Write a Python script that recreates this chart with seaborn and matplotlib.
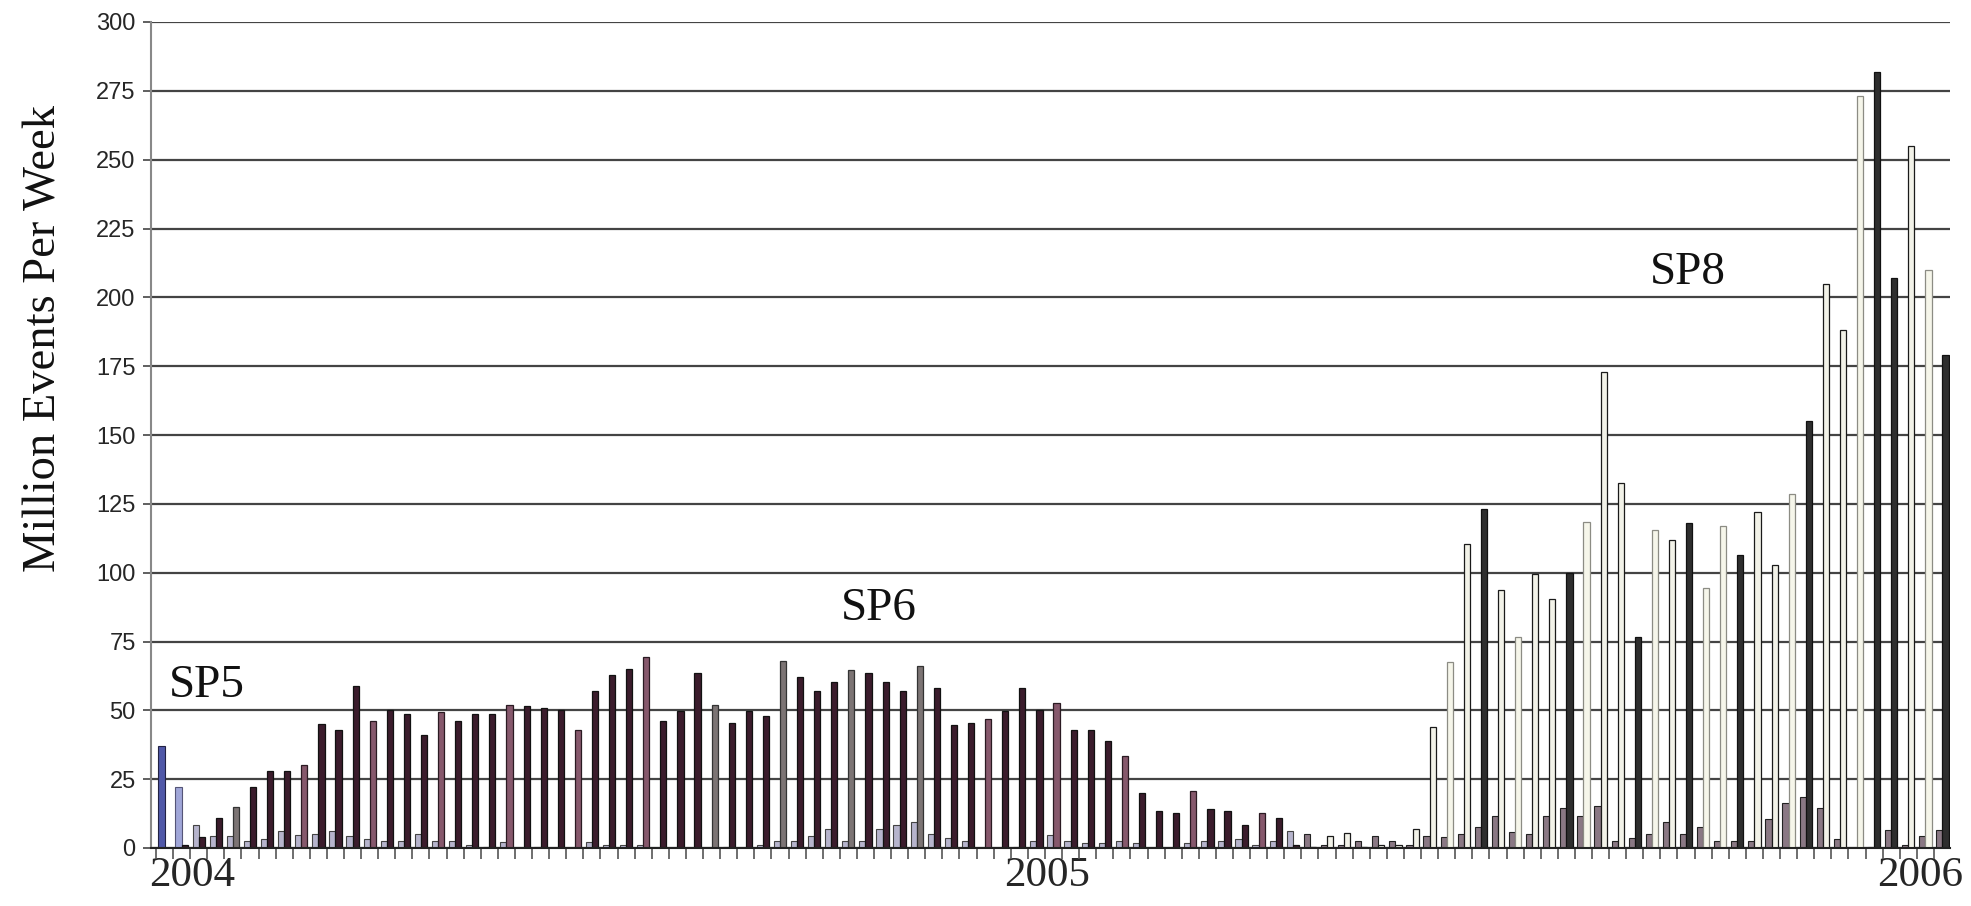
import numpy as np
import pandas as pd
import matplotlib
matplotlib.use("Agg")
import matplotlib.pyplot as plt
import seaborn as sns

# ---------------- data ----------------
weeks = list(range(105))

left_values = [
    37, 22, 8.5, 4.3, 4.3, 2.4, 3.4, 6, 4.6, 5,
    6, 4.3, 3.4, 2.4, 2.4, 5, 2.4, 2.5, 1, 0.3,
    2, 0, 0.3, 0, 0, 2, 1, 1, 1, 0,
    0, 0, 0, 0.5, 0, 1, 2.5, 2.5, 4.4, 6.8,
    2.5, 2.5, 6.8, 8.5, 9.4, 5, 3.5, 2.5, 0, 0,
    0.5, 2.5, 4.6, 2.5, 1.8, 1.8, 2.4, 1.8, 0, 0,
    1.8, 2.7, 2.7, 3.4, 1, 2.7, 6.2, 5, 1, 1,
    2.7, 4.5, 2.7, 1, 4.5, 4, 5, 7.6, 11.8, 5.9,
    5, 11.8, 14.6, 11.5, 15.1, 2.4, 3.5, 5, 9.5, 5,
    7.8, 2.4, 2.4, 2.4, 10.5, 16.3, 18.4, 14.5, 3.2, 0,
    0.5, 6.6, 1, 4.2, 6.4,
]

right_values = [
    0, 1, 4, 11, 15, 22, 28, 28, 30, 45,
    43, 59, 46, 50, 48.5, 41, 49.5, 46, 48.5, 48.5,
    52, 51.5, 51, 50, 43, 57, 63, 65, 69.5, 46,
    49.6, 63.7, 51.8, 45.4, 49.6, 47.8, 68, 62, 57, 60.4,
    64.6, 63.7, 60.4, 57, 66.2, 58, 44.5, 45.4, 47, 49.6,
    58, 50, 52.8, 43, 43, 38.7, 33.5, 20, 13.4, 12.8,
    20.7, 14.3, 13.4, 8.5, 12.8, 11, 1, 0.5, 4.5, 5.3,
    0.5, 1, 1, 6.9, 44, 67.7, 110.4, 123, 93.7, 76.8,
    99.4, 90.3, 100, 118.5, 173, 132.7, 76.6, 115.4, 112, 118,
    94.6, 116.8, 106.4, 122, 102.7, 128.5, 155, 205, 188, 273,
    282, 207, 255, 210, 179,
]

year_labels = ["2004", "2005", "2006"]
phase_labels = ["SP5", "SP6", "SP8"]
y_label = "Million Events Per Week"

df = pd.DataFrame({
    "week": weeks * 2,
    "series": ["L"] * len(weeks) + ["R"] * len(weeks),
    "value": left_values + right_values,
})

# ---------------- styles ----------------
# style code per week for the right-hand bar
right_style = (
    "dddd" "gddd" "mddd" "mddd" "mddd" "mddd" "mddd" "mddd"
    "gddd" "gddd" "gddd" "gddd" "mddd" "mddd" "mddd" "mddd"
    "mdd" "ooooooo" "o" "coko" "coo" "kcoo" "kcok" "ccko" "ocko" "ockk" "ock"
)
style_colors = {
    "d": ("#3b1c2c", "#111111"),
    "m": ("#86586c", "#2a1a22"),
    "g": ("#7c7474", "#333333"),
    "o": ("#f2f2e8", "#1a1a1a"),
    "c": ("#f6f6ea", "#8c8c84"),
    "k": ("#2e2e2e", "#111111"),
}

sns.set_theme(style="white")
plt.rcParams["font.family"] = ["Liberation Serif", "DejaVu Serif"]

W, H = 1971, 906
fig = plt.figure(figsize=(W / 100, H / 100), dpi=100)
ax = fig.add_axes([151 / W, 1 - 848 / H, (1950 - 151) / W, (848 - 22) / H])

sns.barplot(data=df, x="week", y="value", hue="series", hue_order=["L", "R"],
            order=weeks, width=0.72, errorbar=None, legend=False, ax=ax,
            zorder=3, linewidth=0.8)

# recolour bars
for i, p in enumerate(ax.containers[0]):
    if i == 0:
        fc, ec = "#5058a8", "#222244"
    elif i == 1:
        fc, ec = "#a0a6d8", "#555577"
    elif i >= 67:
        fc, ec = "#8a7884", "#222222"
    else:
        fc, ec = "#b6b4cc", "#444444"
    p.set_facecolor(fc)
    p.set_edgecolor(ec)
    p.set_linewidth(0.8)
for i, p in enumerate(ax.containers[1]):
    code = right_style[i] if i < len(right_style) else "k"
    fc, ec = style_colors[code]
    p.set_facecolor(fc)
    p.set_edgecolor(ec)
    p.set_linewidth(0.9)

ax.set_xlim(-0.79, 104.44)
ax.set_ylim(0, 300)
ax.set_yticks(np.arange(0, 301, 25))
ax.set_axisbelow(True)
ax.yaxis.grid(True, color="#444444", lw=1.6, zorder=0)
ax.xaxis.grid(False)
ax.tick_params(axis="y", length=6, width=1.2, color="#444444", pad=5,
               labelsize=17, left=True)
for lab in ax.get_yticklabels():
    lab.set_family("Liberation Sans")

ax.set_xticks([1.6, 51.6, 102.7])
ax.set_xticklabels(year_labels, fontsize=31)
ax.set_xticks(np.arange(len(weeks)) - 0.5, minor=True)
ax.tick_params(axis="x", which="major", length=0, pad=6)
ax.tick_params(axis="x", which="minor", length=8, width=1.2, color="#555555",
               direction="out", bottom=True)
ax.set_xlabel("")
ax.set_ylabel("")

for s in ["top", "right"]:
    ax.spines[s].set_visible(False)
ax.spines["left"].set_color("#888888")
ax.spines["left"].set_linewidth(1.5)
ax.spines["bottom"].set_color("#222222")
ax.spines["bottom"].set_linewidth(1.5)
ax.spines["bottom"].set_zorder(5)

# phase annotations
for lab, (xx, yy) in zip(phase_labels, [(2.5, 59), (41.8, 87), (89.1, 209)]):
    ax.text(xx, yy, lab, ha="center", va="center", fontsize=34, color="#111111",
            zorder=6)

fig.text(44 / W, 1 - 339 / H, y_label, rotation=90, ha="center", va="center",
         fontsize=33.5, color="#111111")

fig.savefig("out.png", dpi=100, facecolor="white")
